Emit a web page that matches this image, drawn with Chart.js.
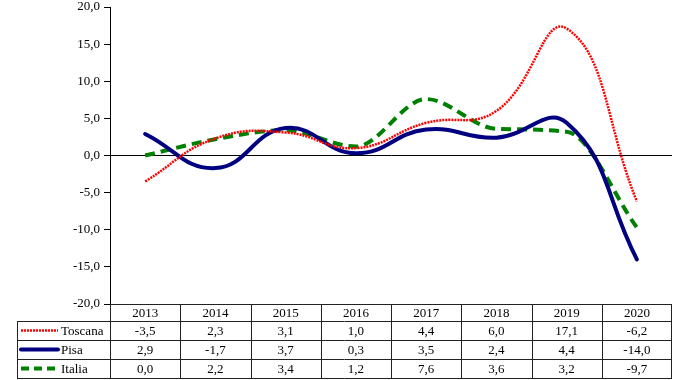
<!DOCTYPE html>
<html>
<head>
<meta charset="utf-8">
<script src="https://cdn.jsdelivr.net/npm/chart.js@4/dist/chart.umd.min.js"></script>
<style>
  html, body { margin: 0; padding: 0; background: #fff; }
  #wrap { width: 675px; height: 380px; }
</style>
</head>
<body>
<div id="wrap"><canvas id="chart" width="675" height="380"></canvas></div>
<script>
// anni
let years = ["2013", "2014", "2015", "2016", "2017", "2018", "2019", "2020"];
// valori per serie
let toscana = [-3.5, 2.3, 3.1, 1.0, 4.4, 6.0, 17.1, -6.2];
let pisa = [2.9, -1.7, 3.7, 0.3, 3.5, 2.4, 4.4, -14.0];
let italia = [0.0, 2.2, 3.4, 1.2, 7.6, 3.6, 3.2, -9.7];

let fmt = v => v.toFixed(1).replace(".", ",");
let FONT = "'Liberation Serif', 'Times New Roman', serif";

// tabella dati sotto il grafico
const dataTable = {
    id: "dataTable",
    afterDraw(chart) {
        let ctx = chart.ctx;
        let area = chart.chartArea;
        let xs = chart.scales.x;
        let n = years.length;
        let w = (area.right - area.left) / n;
        let top = Math.round(area.bottom);
        let rows = [top, top + 17, top + 36, top + 55, top + 74];
        let legLeft = 17;

        ctx.save();
        ctx.strokeStyle = "#222";
        ctx.lineWidth = 1;
        ctx.beginPath();
        // linee orizzontali
        ctx.moveTo(area.left, rows[0] + 0.5);
        ctx.lineTo(area.right, rows[0] + 0.5);
        for (let r = 1; r < rows.length; r++) {
            ctx.moveTo(legLeft, rows[r] + 0.5);
            ctx.lineTo(area.right, rows[r] + 0.5);
        }
        // linee verticali
        for (let i = 0; i <= n; i++) {
            let x = Math.round(area.left + i * w) + 0.5;
            if (i === n) x = Math.round(area.right) - 0.5;
            ctx.moveTo(x, rows[0]);
            ctx.lineTo(x, rows[4]);
        }
        ctx.moveTo(legLeft + 0.5, rows[1]);
        ctx.lineTo(legLeft + 0.5, rows[4]);
        ctx.stroke();

        ctx.fillStyle = "#000";
        ctx.font = "13px " + FONT;
        ctx.textAlign = "center";
        ctx.textBaseline = "middle";
        years.forEach((y, i) => {
            ctx.fillText(y, xs.getPixelForValue(i), (rows[0] + rows[1]) / 2 + 1);
        });

        chart.data.datasets.forEach((ds, r) => {
            let cy = (rows[r + 1] + rows[r + 2]) / 2 + 1;
            ds.data.forEach((v, i) => {
                ctx.fillText(fmt(v), xs.getPixelForValue(i), cy);
            });
            // chiave legenda
            ctx.save();
            ctx.strokeStyle = ds.borderColor;
            ctx.lineWidth = ds.borderWidth;
            ctx.lineCap = ds.borderCapStyle || "butt";
            ctx.setLineDash(ds.keyDash || []);
            ctx.beginPath();
            ctx.moveTo(21, cy - 1);
            ctx.lineTo(58, cy - 1);
            ctx.stroke();
            ctx.restore();
            ctx.textAlign = "left";
            ctx.fillText(ds.label, 61, cy);
            ctx.textAlign = "center";
        });
        ctx.restore();
    }
};

let ctx = document.getElementById("chart").getContext("2d");
new Chart(ctx, {
    type: "line",
    data: {
        labels: years,
        datasets: [
            {
                label: "Toscana",
                data: toscana,
                borderColor: "#ff0000",
                borderWidth: 2.5,
                borderDash: [2, 1],
                keyDash: [2, 1],
                pointRadius: 0,
                tension: 0.45,
                fill: false
            },
            {
                label: "Pisa",
                data: pisa,
                borderColor: "#000080",
                borderWidth: 4,
                borderCapStyle: "round",
                pointRadius: 0,
                tension: 0.45,
                fill: false
            },
            {
                label: "Italia",
                data: italia,
                borderColor: "#008000",
                borderWidth: 4,
                borderDash: [10, 6],
                keyDash: [8, 5],
                pointRadius: 0,
                cubicInterpolationMode: "monotone",
                fill: false
            }
        ]
    },
    options: {
        responsive: false,
        animation: false,
        layout: { padding: { left: 17, right: 3, top: 7, bottom: 76 } },
        plugins: {
            legend: { display: false },
            tooltip: { enabled: false }
        },
        scales: {
            x: {
                display: false,
                offset: true
            },
            y: {
                min: -20,
                max: 20,
                afterFit: s => { s.width = 93; s.paddingTop = 0; s.paddingBottom = 0; },
                ticks: {
                    stepSize: 5,
                    color: "#000",
                    padding: 4,
                    font: { family: FONT, size: 13 },
                    callback: v => fmt(v)
                },
                grid: {
                    color: c => (c.tick && c.tick.value === 0) ? "#000" : "transparent",
                    tickColor: "#000",
                    tickLength: 6,
                    lineWidth: 1
                },
                border: { color: "#000", width: 1 }
            }
        }
    },
    plugins: [dataTable]
});
</script>
</body>
</html>
